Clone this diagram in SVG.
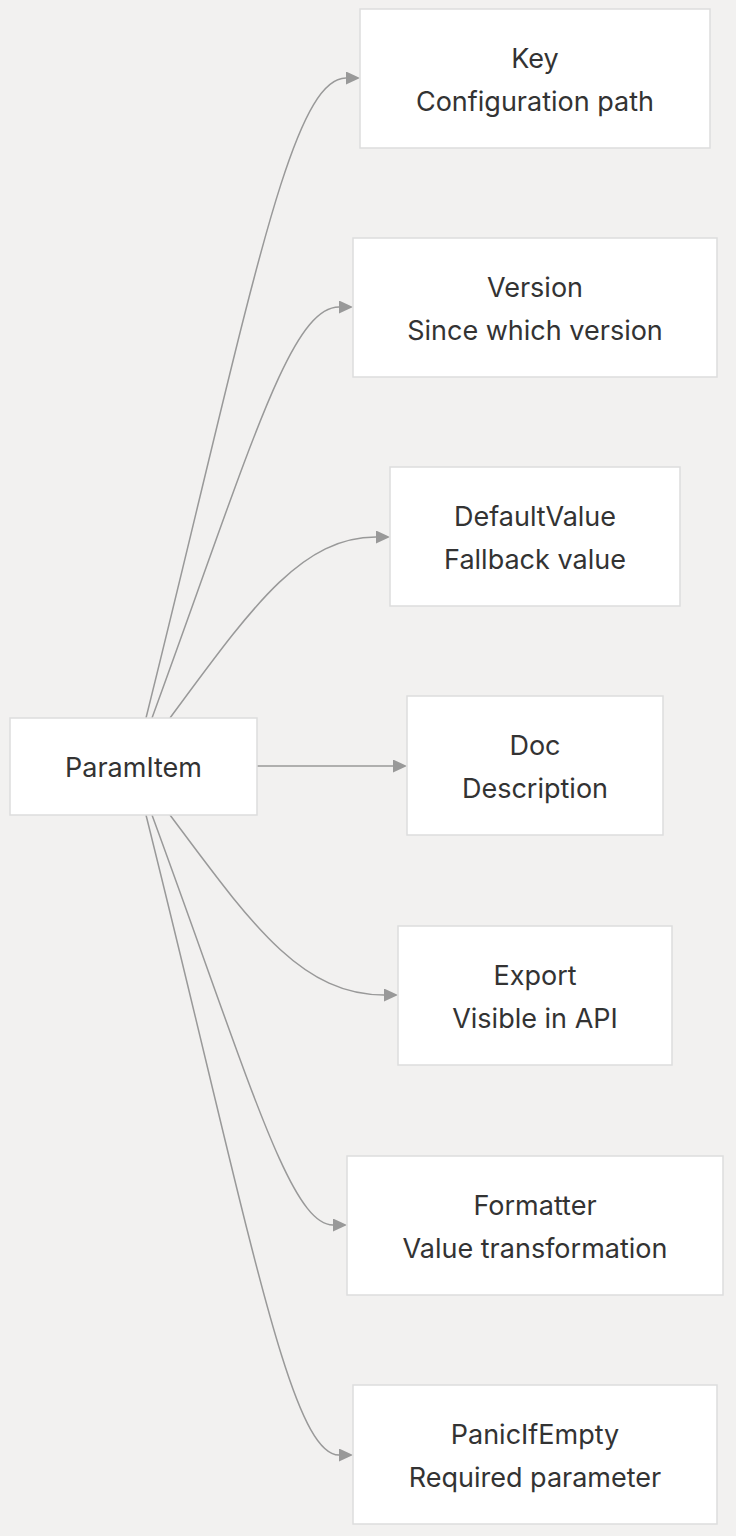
<svg xmlns="http://www.w3.org/2000/svg" width="736" height="1536" viewBox="0 0 736 1536">
<defs>
<style>
.node rect{fill:#ffffff;stroke:#dddddd;stroke-width:1.5}
.node text{font-family:Inter,"Liberation Sans",sans-serif;font-size:27px;fill:#333333;text-anchor:middle}
.edge{fill:none;stroke:#999999;stroke-width:1.5}
</style>
<marker id="arr" viewBox="0 0 14 13" refX="0" refY="6.5" markerWidth="14" markerHeight="13" markerUnits="userSpaceOnUse" orient="auto">
<path d="M0,0 L14,6.5 L0,13 z" fill="#999999"/>
</marker>
</defs>
<rect x="0" y="0" width="736" height="1536" fill="#f2f1f0"/>
<g id="connectors">
<path class="edge" marker-end="url(#arr)" d="M146,718 C250,300 290,78 346,78"/>
<path class="edge" marker-end="url(#arr)" d="M152,718 C250,450 290,307 339,307"/>
<path class="edge" marker-end="url(#arr)" d="M170,718 C250,610 300,537 376,537"/>
<path class="edge" marker-end="url(#arr)" d="M257,766 L393,766"/>
<path class="edge" marker-end="url(#arr)" d="M170,815 C250,922 300,995 384,995"/>
<path class="edge" marker-end="url(#arr)" d="M152,815 C250,1082 290,1225 333,1225"/>
<path class="edge" marker-end="url(#arr)" d="M146,815 C250,1232 290,1455 339,1455"/>
</g>
<g id="ParamItem" class="node"><rect x="10" y="718" width="247" height="97"/><text x="133.5" y="777">ParamItem</text></g>
<g id="Key" class="node"><rect x="360" y="9" width="350" height="139"/><text x="535" y="68">Key</text><text x="535" y="111">Configuration path</text></g>
<g id="Version" class="node"><rect x="353" y="238" width="364" height="139"/><text x="535" y="297">Version</text><text x="535" y="340">Since which version</text></g>
<g id="DefaultValue" class="node"><rect x="390" y="467" width="290" height="139"/><text x="535" y="526">DefaultValue</text><text x="535" y="569">Fallback value</text></g>
<g id="Doc" class="node"><rect x="407" y="696" width="256" height="139"/><text x="535" y="755">Doc</text><text x="535" y="798">Description</text></g>
<g id="Export" class="node"><rect x="398" y="926" width="274" height="139"/><text x="535" y="985">Export</text><text x="535" y="1028">Visible in API</text></g>
<g id="Formatter" class="node"><rect x="347" y="1156" width="376" height="139"/><text x="535" y="1215">Formatter</text><text x="535" y="1258">Value transformation</text></g>
<g id="PanicIfEmpty" class="node"><rect x="353" y="1385" width="364" height="139"/><text x="535" y="1444">PanicIfEmpty</text><text x="535" y="1487">Required parameter</text></g>
</svg>
